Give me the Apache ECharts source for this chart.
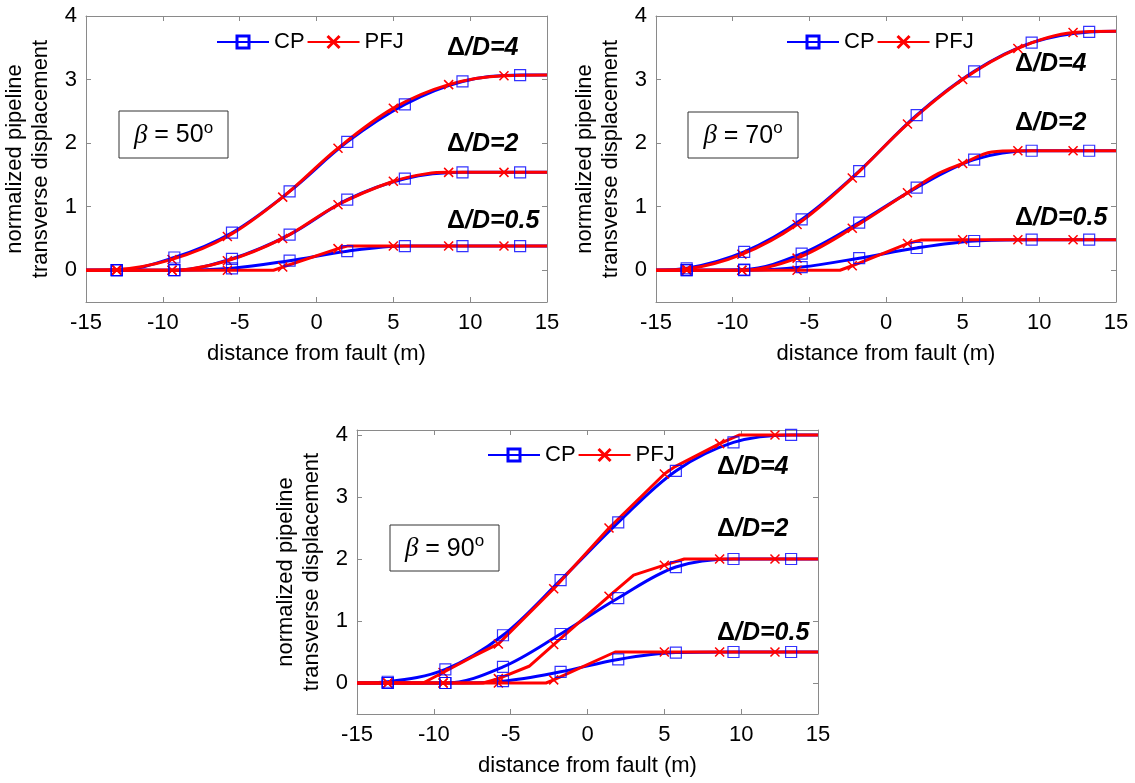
<!DOCTYPE html>
<html><head><meta charset="utf-8">
<script src="https://cdn.jsdelivr.net/npm/echarts@6/dist/echarts.min.js"></script>
<style>html,body{margin:0;padding:0;background:#fff}#c{width:1135px;height:783px}</style>
</head><body><div id="c"></div><script>
// ---- tick labels ----
const xTicks = [-15, -10, -5, 0, 5, 10, 15];
const yTicks = [0, 1, 2, 3, 4];
// ---- marker positions (distance from fault, m) ----
const cpMarkX = [-13, -9.25, -5.5, -1.75, 2, 5.75, 9.5, 13.25];
const pfjMarkX = [-13, -9.4, -5.8, -2.2, 1.4, 5.0, 8.6, 12.2];
// ---- beta = 50 ----
const cp50_4 = [[-15,0],[-13,0],[-9.25,0.20],[-5.5,0.59],[-1.75,1.24],[2,2.02],[5.75,2.61],[9.5,2.97],[13.25,3.07],[15,3.07]];
const pfj50_4 = [[-15,0],[-13,0.01],[-9.4,0.17],[-5.8,0.53],[-2.2,1.15],[1.4,1.92],[5.0,2.55],[8.6,2.92],[12.2,3.06],[15,3.07]];
const cp50_2 = [[-15,0],[-13,0],[-9.25,0],[-5.5,0.18],[-1.75,0.56],[2,1.11],[5.75,1.44],[9.5,1.54],[13.25,1.54],[15,1.54]];
const pfj50_2 = [[-15,0],[-13,0],[-9.4,0],[-5.8,0.15],[-2.2,0.50],[1.4,1.03],[5.0,1.40],[7.2,1.52],[8.6,1.54],[12.2,1.54],[15,1.54]];
const cp50_05 = [[-15,0],[-13,0],[-9.25,0],[-5.5,0.03],[-1.75,0.15],[2,0.30],[5.75,0.38],[9.5,0.38],[13.25,0.38],[15,0.38]];
const pfj50_05 = [[-15,0],[-13,0],[-9.4,0],[-5.8,0],[-2.8,0],[-2.2,0.05],[1.4,0.34],[2.0,0.38],[5.0,0.38],[8.6,0.38],[12.2,0.38],[15,0.38]];
// ---- beta = 70 ----
const cp70_4 = [[-15,0],[-13,0.03],[-9.25,0.29],[-5.5,0.80],[-1.75,1.56],[2,2.44],[5.75,3.13],[9.5,3.58],[13.25,3.75],[15,3.76]];
const pfj70_4 = [[-15,0],[-13,0.02],[-9.4,0.25],[-5.8,0.72],[-2.2,1.45],[1.4,2.30],[5.0,3.00],[8.6,3.49],[12.2,3.74],[15,3.76]];
const cp70_2 = [[-15,0],[-13,0],[-9.25,0.01],[-5.5,0.26],[-1.75,0.75],[2,1.30],[5.75,1.74],[9.5,1.88],[13.25,1.88],[15,1.88]];
const pfj70_2 = [[-15,0],[-13,0],[-9.4,0],[-5.8,0.19],[-2.2,0.66],[1.4,1.22],[3.4,1.52],[5.0,1.68],[6.9,1.86],[8.6,1.88],[12.2,1.88],[15,1.88]];
const cp70_05 = [[-15,0],[-13,0],[-9.25,0],[-5.5,0.05],[-1.75,0.19],[2,0.35],[5.75,0.46],[9.5,0.48],[13.25,0.48],[15,0.48]];
const pfj70_05 = [[-15,0],[-13,0],[-9.4,0],[-5.8,0],[-3.0,0],[-2.2,0.07],[1.4,0.42],[2.3,0.475],[5.0,0.48],[8.6,0.48],[12.2,0.48],[15,0.48]];
// ---- beta = 90 ----
const cp90_4 = [[-15,0],[-13,0.02],[-9.25,0.22],[-5.5,0.77],[-1.75,1.66],[2,2.59],[5.75,3.42],[9.5,3.88],[13.25,4.0],[15,4.0]];
const pfj90_4 = [[-15,0],[-13,0],[-10.7,0],[-9.4,0.17],[-7.5,0.42],[-5.8,0.63],[-2.2,1.52],[1.4,2.50],[5.0,3.37],[5.7,3.49],[8.6,3.86],[9.9,4.0],[12.2,4.0],[15,4.0]];
const cp90_2 = [[-15,0],[-13,0],[-9.25,0],[-5.5,0.26],[-1.75,0.79],[2,1.37],[5.75,1.87],[9.5,2.0],[13.25,2.0],[15,2.0]];
const pfj90_2 = [[-15,0],[-13,0],[-9.4,0],[-6.8,0],[-5.8,0.07],[-3.8,0.27],[-2.2,0.62],[1.4,1.40],[3.0,1.74],[5.0,1.90],[6.3,2.0],[8.6,2.0],[12.2,2.0],[15,2.0]];
const cp90_05 = [[-15,0],[-13,0],[-9.25,0],[-5.5,0.03],[-1.75,0.18],[2,0.38],[5.75,0.49],[9.5,0.5],[13.25,0.5],[15,0.5]];
const pfj90_05 = [[-15,0],[-13,0],[-9.4,0],[-5.8,0],[-2.7,0],[-2.2,0.05],[1.8,0.5],[5.0,0.5],[8.6,0.5],[12.2,0.5],[15,0.5]];

const betaLabels = ['50', '70', '90'];
const ratioLabels = ['4', '2', '0.5'];
const yMaxes = [4, 4, 4.08];

const panels = [
  { cp: [cp50_4, cp50_2, cp50_05], pfj: [pfj50_4, pfj50_2, pfj50_05], pfjSmooth: [true, true, false] },
  { cp: [cp70_4, cp70_2, cp70_05], pfj: [pfj70_4, pfj70_2, pfj70_05], pfjSmooth: [true, true, false] },
  { cp: [cp90_4, cp90_2, cp90_05], pfj: [pfj90_4, pfj90_2, pfj90_05], pfjSmooth: [false, false, false] }
];

const FONT = "'Liberation Sans', Arial, sans-serif";
const AXC = '#8a8a8a';
const BLUE = '#0000ff', RED = '#ff0000';
const XPATH = 'path://M0,0L10,10M10,0L0,10';

const gridPos = [
  { left: 86, top: 16, width: 461, height: 286 },
  { left: 656, top: 16, width: 460, height: 286 },
  { left: 357, top: 430, width: 461, height: 284 }
];

const isMark = (x, arr) => arr.some(m => Math.abs(m - x) < 1e-9);

const axLine = { show: true, onZero: false, lineStyle: { color: AXC, width: 1 } };
const xAxis = [], yAxis = [], series = [];
gridPos.forEach((g, i) => {
  xAxis.push({
    type: 'value', gridIndex: i, min: -15, max: 15, position: 'bottom',
    axisLine: axLine,
    axisTick: { show: true, inside: true, length: 5, lineStyle: { color: AXC }, customValues: xTicks },
    axisLabel: { show: true, margin: 10, color: '#000', fontSize: 22, fontFamily: FONT, customValues: xTicks },
    splitLine: { show: false },
    name: 'distance from fault (m)', nameLocation: 'middle', nameGap: 41,
    nameTextStyle: { color: '#000', fontSize: 22, fontFamily: FONT }
  });
  yAxis.push({
    type: 'value', gridIndex: i, min: -0.5, max: yMaxes[i], position: 'left',
    axisLine: axLine,
    axisTick: { show: true, inside: true, length: 5, lineStyle: { color: AXC }, customValues: yTicks },
    axisLabel: { show: true, margin: 9, color: '#000', fontSize: 22, fontFamily: FONT, customValues: yTicks },
    splitLine: { show: false },
    name: 'normalized pipeline\ntransverse displacement', nameLocation: 'middle', nameGap: 32,
    nameTextStyle: { color: '#000', fontSize: 22, lineHeight: 26, fontFamily: FONT }
  });
});
gridPos.forEach((g, i) => {
  xAxis.push({
    type: 'value', gridIndex: i, min: -15, max: 15, position: 'top',
    axisLine: axLine,
    axisTick: { show: true, inside: true, length: 5, lineStyle: { color: AXC }, customValues: xTicks },
    axisLabel: { show: false }, splitLine: { show: false }
  });
  yAxis.push({
    type: 'value', gridIndex: i, min: -0.5, max: yMaxes[i], position: 'right',
    axisLine: axLine,
    axisTick: { show: true, inside: true, length: 5, lineStyle: { color: AXC }, customValues: yTicks },
    axisLabel: { show: false }, splitLine: { show: false }
  });
});

panels.forEach((p, i) => {
  p.cp.forEach(curve => {
    series.push({
      name: 'CP', type: 'line', xAxisIndex: i, yAxisIndex: i, z: 2,
      smooth: 0.35, symbol: 'rect', symbolSize: 11,
      itemStyle: { color: 'rgba(0,0,0,0)', borderColor: BLUE, borderWidth: 1.2 },
      lineStyle: { color: BLUE, width: 3 },
      data: curve.map(([x, y]) => ({ value: [x, y], symbol: 'none' })),
      animation: false, silent: true
    });
  });
  p.pfj.forEach((curve, k) => {
    series.push({
      name: 'PFJ', type: 'line', xAxisIndex: i, yAxisIndex: i, z: 3,
      smooth: p.pfjSmooth[k] ? 0.35 : false, symbol: XPATH, symbolSize: 9,
      itemStyle: { color: 'rgba(0,0,0,0)', borderColor: RED, borderWidth: 1.5 },
      lineStyle: { color: RED, width: 3 },
      data: curve.map(([x, y]) => isMark(x, pfjMarkX) ? { value: [x, y] } : { value: [x, y], symbol: 'none' }),
      animation: false, silent: true
    });
  });
  p.cp.forEach(curve => {
    series.push({
      name: 'CP markers', type: 'scatter', xAxisIndex: i, yAxisIndex: i, z: 4,
      symbol: 'rect', symbolSize: 11,
      itemStyle: { color: 'rgba(0,0,0,0)', borderColor: BLUE, borderWidth: 1.2 },
      data: curve.filter(([x]) => isMark(x, cpMarkX)),
      animation: false, silent: true
    });
  });
});

const legendPos = [{ left: 216, top: 31 }, { left: 786, top: 31 }, { left: 487, top: 444 }];
const legend = legendPos.map(lp => ({
  left: lp.left, top: lp.top, orient: 'horizontal', padding: 0,
  itemWidth: 52, itemHeight: 15, itemGap: 2,
  textStyle: { fontSize: 22, color: '#000', fontFamily: FONT },
  data: [
    { name: 'CP', itemStyle: { borderWidth: 3 } },
    { name: 'PFJ', itemStyle: { borderWidth: 3 } }
  ],
  selectedMode: false
}));

const boxes = [
  { x: 119, y: 111, w: 109, h: 47 },
  { x: 688, y: 112, w: 110, h: 46 },
  { x: 390, y: 525, w: 109, h: 46 }
];
const ratioPos = [
  [{ x: 447, y: 48 }, { x: 447, y: 144 }, { x: 447, y: 221 }],
  [{ x: 1015, y: 64 }, { x: 1015, y: 123 }, { x: 1015, y: 218 }],
  [{ x: 717, y: 467 }, { x: 717, y: 529 }, { x: 717, y: 633 }]
];

const graphic = [];
boxes.forEach((b, i) => {
  graphic.push({
    type: 'rect', shape: { x: b.x, y: b.y, width: b.w, height: b.h },
    style: { fill: '#fff', stroke: '#333', lineWidth: 1 }, z: 10
  });
  graphic.push({
    type: 'text', x: b.x + b.w / 2, y: b.y + b.h / 2 + 1, z: 11,
    style: {
      text: '{b|β} = ' + betaLabels[i] + '{s|o}',
      align: 'center', verticalAlign: 'middle',
      font: '25px ' + FONT, fill: '#000',
      rich: {
        b: { fontFamily: "'Liberation Serif', serif", fontStyle: 'italic', fontSize: 27, lineHeight: 32 },
        n: { fontSize: 25, lineHeight: 32 },
        s: { fontSize: 17, verticalAlign: 'top', lineHeight: 32, fontFamily: FONT }
      }
    }
  });
});
ratioPos.forEach((arr, i) => {
  arr.forEach((pp, k) => {
    graphic.push({
      type: 'text', x: pp.x, y: pp.y, z: 11,
      style: {
        text: '{d|Δ}{i|/D=' + ratioLabels[k] + '}',
        align: 'left', verticalAlign: 'middle', fill: '#000',
        font: 'bold 25px ' + FONT,
        rich: {
          d: { fontWeight: 'bold', fontSize: 25, fontFamily: FONT },
          i: { fontWeight: 'bold', fontStyle: 'italic', fontSize: 25, fontFamily: FONT }
        }
      }
    });
  });
});

const chart = echarts.init(document.getElementById('c'), null, { renderer: 'canvas' });
chart.setOption({
  animation: false,
  backgroundColor: '#fff',
  grid: gridPos.map(g => Object.assign({ show: false, containLabel: false, outerBoundsMode: 'none' }, g)),
  xAxis, yAxis, series, legend, graphic
});
</script></body></html>
